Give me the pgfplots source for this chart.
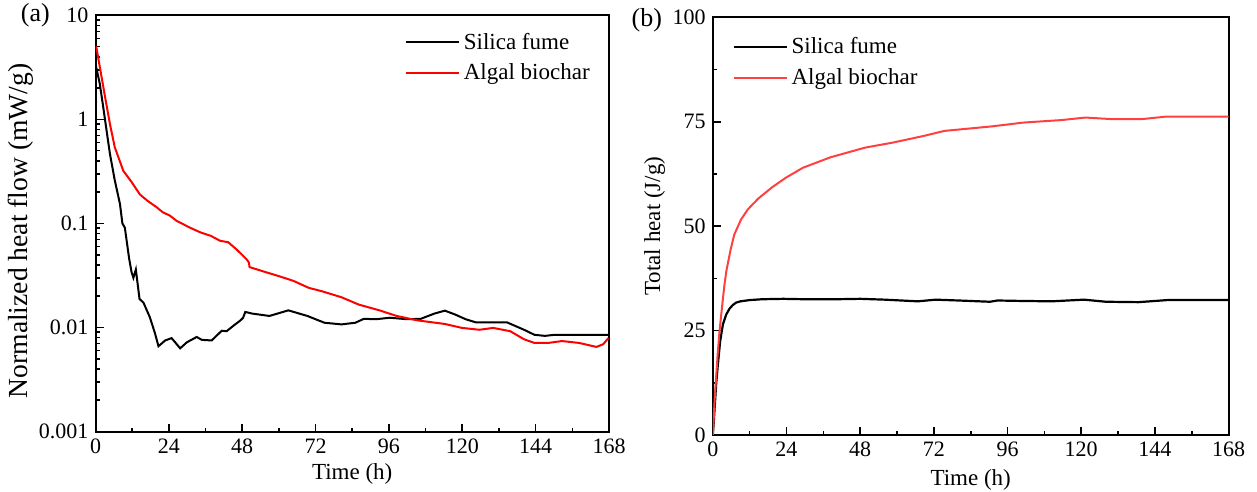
\documentclass[border=0pt]{standalone}
\usepackage{fontspec}
\setmainfont{Liberation Serif}
\usepackage{pgfplots}
\pgfplotsset{compat=1.18}
\definecolor{redA}{RGB}{255,0,0}
\definecolor{redB}{RGB}{255,64,64}
\pgfplotsset{
 myax/.style={
  scale only axis,
  clip mode=individual,
  axis line style={line width=1pt},
  every tick/.style={line width=0.8pt, black},
  major tick length=4pt, minor tick length=2pt,
  tick align=inside,
  xtick pos=lower, ytick pos=left,
  xmin=0, xmax=168, xtick={0,24,...,168}, minor x tick num=1,
  tick label style={font=\fontsize{11}{13}\selectfont},
  label style={font=\fontsize{11.5}{13}\selectfont},
  /pgf/number format/assume math mode=true,
  legend style={draw=none, fill=none, font=\fontsize{11.5}{13}\selectfont, anchor=north west, row sep=1.8pt},
  legend cell align=left,
  legend image code/.code={\draw[##1] (0pt,0pt) -- (26.5pt,0pt);},
  xlabel={Time (h)},
 }
}
\begin{document}
\begin{tikzpicture}
\useasboundingbox (0,0) rectangle (628.5pt,246pt);
\begin{axis}[myax,
  at={(47.75pt,30.25pt)}, anchor=south west,
  width=256.75pt, height=208.1pt,
  ymode=log, ymin=0.001, ymax=10,
  ytick={0.001,0.01,0.1,1,10},
  yticklabels={0.001,0.01,0.1,1,10},
  minor ytick={0.002,0.003,0.004,0.005,0.006,0.007,0.008,0.009,0.02,0.03,0.04,0.05,0.06,0.07,0.08,0.09,0.2,0.3,0.4,0.5,0.6,0.7,0.8,0.9,2,3,4,5,6,7,8,9},
  ylabel={Normalized heat flow (mW/g)},
  ylabel style={at={(axis description cs:-0.146,0.482)}, anchor=center, font=\fontsize{13.8}{15}\selectfont},
  xlabel style={at={(axis description cs:0.5,-0.103)}, anchor=center},
  legend style={at={(axis description cs:0.590,0.978)}},
]
\addplot[black, line width=1pt] coordinates {
(0,3.0)(0.3,3.1)(1.4,2.2)(2.5,1.33)(3.6,0.79)(4.7,0.47)(6.3,0.26)(8.0,0.154)(8.8,0.1)(9.6,0.091)(11.0,0.046)(11.8,0.034)(12.4,0.030)(13.2,0.036)(14.4,0.0188)(15.7,0.0173)(17.8,0.0125)(19.5,0.0087)(20.6,0.0066)(22.8,0.0075)(24.9,0.0079)(27.7,0.0063)(29.9,0.0072)(33.1,0.0081)(34.8,0.0076)(38.0,0.0075)(41.3,0.0093)(42.9,0.0092)(45.5,0.0106)(47.3,0.0116)(48.3,0.0124)(49.0,0.0141)(51.2,0.0136)(56.9,0.0129)(63.1,0.0146)(69.3,0.0129)(74.9,0.0111)(80.5,0.0107)(85.0,0.0111)(87.8,0.0121)(91.8,0.0120)(96.3,0.0124)(101.9,0.0120)(106.4,0.0121)(110.9,0.0136)(114.3,0.0145)(117.7,0.0133)(121.1,0.0120)(124.4,0.0112)(134.6,0.0112)(140.2,0.0095)(143.6,0.0085)(147.0,0.0083)(150.3,0.0085)(168,0.0085)
};
\addlegendentry{Silica fume}
\addplot[redA, line width=1pt] coordinates {
(0,5.0)(0.3,4.9)(1.4,3.2)(3.1,1.66)(4.7,0.91)(6.3,0.54)(9.1,0.32)(11.8,0.25)(14.5,0.19)(17.0,0.165)(20,0.143)(22.0,0.128)(24.3,0.119)(26.5,0.106)(30.9,0.091)(34.3,0.082)(37.7,0.076)(40.8,0.068)(43.4,0.066)(46.2,0.056)(49.5,0.045)(50.2,0.042)(50.4,0.038)(55.7,0.034)(60.2,0.031)(64.8,0.028)(69.8,0.024)(73.8,0.0224)(80.5,0.0195)(86.1,0.0166)(92.9,0.0146)(98.5,0.0129)(105.3,0.0117)(114.3,0.0108)(119.9,0.0099)(125.6,0.0095)(130.1,0.0099)(135.7,0.0092)(140.2,0.0077)(143.6,0.0071)(148.1,0.0071)(152.6,0.0074)(158.2,0.0071)(163.9,0.0065)(166.1,0.0069)(167.8,0.0079)
};
\addlegendentry{Algal biochar}
\node[font=\fontsize{13}{15}\selectfont] at (axis description cs:-0.117,1.0) {(a)};
\end{axis}
\begin{axis}[myax,
  at={(356.4pt,28.5pt)}, anchor=south west,
  width=257.9pt, height=208.85pt,
  ymin=0, ymax=100, ytick={0,25,50,75,100}, minor y tick num=1,
  ylabel={Total heat (J/g)},
  ylabel style={at={(axis description cs:-0.113,0.5)}, anchor=center},
  xlabel style={at={(axis description cs:0.5,-0.108)}, anchor=center},
  legend style={at={(axis description cs:0.0256,0.972)}},
]
\addplot[black, line width=1.1pt] coordinates {
(0,0)(0.3,3)(0.6,6.5)(1.1,12.3)(1.6,16.5)(2.0,19.5)(2.4,22.5)(3.3,26.5)(4.4,28.9)(5.5,30.3)(6.5,31.1)(7.6,31.7)(9,32.0)(12,32.3)(16,32.5)(23,32.6)(30,32.5)(40,32.5)(48,32.6)(56,32.4)(66.8,32.0)(72.6,32.4)(80,32.2)(90.3,31.9)(92.7,32.2)(100,32.1)(110.3,32.0)(120.9,32.4)(128,31.9)(138.6,31.8)(148,32.3)(158,32.3)(168,32.3)
};
\addlegendentry{Silica fume}
\addplot[redB, line width=1pt] coordinates {
(0,0)(0.3,4)(0.6,8.5)(1.1,14)(1.6,19.5)(2.2,25)(3.2,32)(3.8,36)(4.4,39.2)(5.8,44.4)(7.0,48)(9.2,51.6)(11.4,54)(14.8,56.6)(19.3,59.3)(23.8,61.6)(29.4,64.0)(38.4,66.5)(49.6,68.8)(58.6,70.0)(68.7,71.6)(75.4,72.8)(91.1,73.9)(101.2,74.8)(113.6,75.4)(121.4,76.0)(130.4,75.6)(139.4,75.6)(147.3,76.2)(168,76.2)
};
\addlegendentry{Algal biochar}
\node[font=\fontsize{13}{15}\selectfont] at (axis description cs:-0.128,0.994) {(b)};
\end{axis}
\end{tikzpicture}
\end{document}
